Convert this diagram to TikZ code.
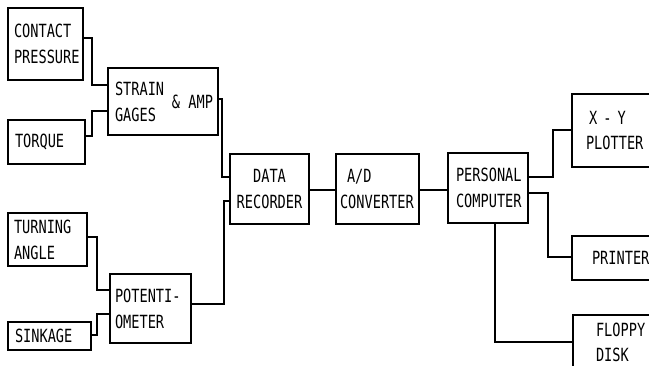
\documentclass[tikz,border=0pt]{standalone}
\usepackage{fontspec}
\usepackage{tikz}
\newfontfamily\boxfont[FakeStretch=0.75]{DejaVu Sans Mono}

\begin{document}
\begin{tikzpicture}[x=0.03cm, y=-0.03cm,
            line width=0.9pt,
            blk/.style={draw, anchor=north west, align=left, inner ysep=1pt, outer sep=0pt,
                font=\boxfont\fontsize{15.5}{22}\selectfont},
            lbl/.style={inner sep=1pt, font=\boxfont\fontsize{15.5}{22}\selectfont}]
        \useasboundingbox (0,0) rectangle (649,365);
        \clip (0,0) rectangle (649,365);

        % sensors
        \node[blk, minimum width=2.25cm, minimum height=2.16cm, inner xsep=0.18cm, text width=1.89cm] (cp) at (8,8) {CONTACT\\PRESSURE};
        \node[blk, minimum width=2.31cm, minimum height=1.32cm, inner xsep=0.21cm, text width=1.89cm] (tq) at (8,120) {TORQUE};
        \node[blk, minimum width=2.37cm, minimum height=1.59cm, inner xsep=0.18cm, text width=2.01cm] (ta) at (8,213) {TURNING\\ANGLE};
        \node[blk, minimum width=2.49cm, minimum height=0.84cm, inner xsep=0.21cm, text width=2.07cm] (sk) at (8,322) {SINKAGE};

        \node[blk, minimum width=3.30cm, minimum height=2.01cm, inner xsep=0.21cm, text width=2.88cm] (sg) at (108,68) {STRAIN\\GAGES};
        \node[lbl, anchor=east] (amp) at ([xshift=-0.1cm]sg.east) {\& AMP};
        \node[blk, minimum width=2.43cm, minimum height=2.07cm, inner xsep=0.15cm, text width=2.13cm] (pt) at (110,274) {POTENTI-\\OMETER};

        % chain
        \node[blk, align=center, minimum width=2.37cm, minimum height=2.10cm, inner xsep=0.12cm, text width=2.13cm] (dr) at (230,154) {DATA\\RECORDER};
        \node[blk, minimum width=2.49cm, minimum height=2.10cm, inner xsep=0.12cm, text width=2.25cm] (ad) at (336,154) {\hspace*{0.21cm}A/D\\CONVERTER};
        \node[blk, minimum width=2.40cm, minimum height=2.10cm, inner xsep=0.24cm, text width=1.92cm] (pc) at (448,153) {PERSONAL\\COMPUTER};

        % outputs
        \node[blk, minimum width=3cm, minimum height=2.19cm, inner xsep=0.42cm, text width=2.16cm] (xy) at (572,94) {\hspace*{0.09cm}X - Y\\PLOTTER};
        \node[blk, minimum width=3cm, minimum height=1.32cm, inner xsep=0.60cm, text width=1.80cm] (pr) at (572,236) {PRINTER};
        \node[blk, minimum width=3cm, minimum height=1.64cm, inner xsep=0.69cm, text width=1.62cm] (fd) at (573,315) {FLOPPY\\DISK};

        \draw (cp.east |- 0,38) -- (92,38) -- (92,85) -- (sg.west |- 0,85);
        \draw (tq.east |- 0,136) -- (92,136) -- (92,111) -- (sg.west |- 0,111);
        \draw (sg.east |- 0,99) -- (222,99) -- (222,177) -- (dr.west |- 0,177);

        \draw (ta.east |- 0,237) -- (97,237) -- (97,290) -- (pt.west |- 0,290);
        \draw (sk.east |- 0,335) -- (97,335) -- (97,314) -- (pt.west |- 0,314);
        \draw (pt.east |- 0,304) -- (224,304) -- (224,201) -- (dr.west |- 0,201);

        \draw (dr.east |- 0,190) -- (ad.west |- 0,190);
        \draw (ad.east |- 0,190) -- (pc.west |- 0,190);

        \draw (pc.east |- 0,177) -- (553,177) -- (553,130) -- (xy.west |- 0,130);
        \draw (pc.east |- 0,193) -- (548,193) -- (548,257) -- (pr.west |- 0,257);
        \draw (pc.south -| 495,0) -- (495,342) -- (fd.west |- 0,342);
    \end{tikzpicture}
\end{document}
